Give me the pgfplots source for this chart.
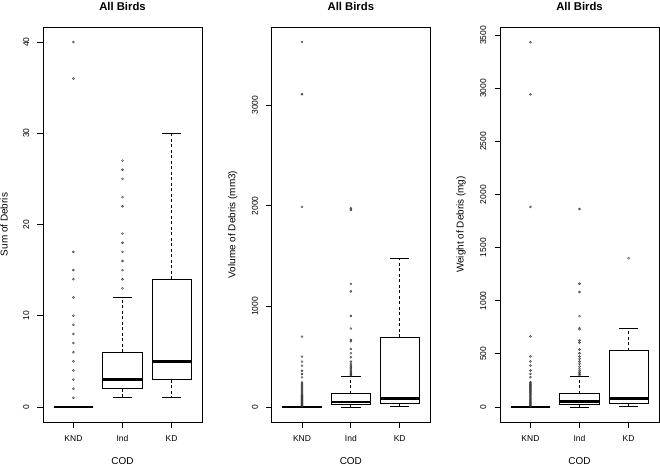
\documentclass[border=0pt]{standalone}
\usepackage{fontspec}
\setmainfont{Liberation Sans}
\usepackage{pgfplots}
\pgfplotsset{compat=1.18}
\pgfplotsset{
  rbox/.style={
    scale only axis, width=159bp, height=395bp, anchor=south west,
    xmin=0.38, xmax=3.62, xtick={1,2,3}, xticklabels={KND,Ind,KD},
    tick pos=left, tick align=outside, major tick length=5.5bp,
    axis line style={line width=0.9bp},
    tick style={black, line width=0.8bp},
    /pgf/number format/assume math mode=true,
    /pgf/number format/1000 sep={},
    label style={font=\fontsize{8.5bp}{10bp}\selectfont},
    every axis x label/.style={at={(axis description cs:0.5,0)}, yshift=-39bp, anchor=center},
    every axis y label/.style={at={(axis description cs:0,0.5)}, xshift=-39bp, rotate=90, anchor=center},
    title={All Birds},
    every axis title/.style={at={(axis description cs:0.5,1)}, yshift=21bp, anchor=center, font=\bfseries\fontsize{11.3bp}{13bp}\selectfont},
    xlabel={COD},
    xticklabel style={font=\fontsize{8.5bp}{10bp}\selectfont, inner sep=0pt, anchor=north, yshift=-8bp},
  },
  ylab/.style={
    yticklabel style={font=\fontsize{8.5bp}{10bp}\selectfont, inner sep=0pt, rotate=90, anchor=south, yshift=8bp},
  },
  wh/.style={black, line width=0.8bp, dash pattern=on 3bp off 2.5bp},
  cap/.style={black, line width=0.8bp},
  bx/.style={black, line width=0.8bp, fill=white},
  med/.style={black, line width=2.6bp},
  rout/.style={only marks, mark=o, mark size=1bp, mark options={draw=black!80, line width=0.45bp, solid}},
}
\begin{document}
\begin{tikzpicture}
\useasboundingbox (0,0) rectangle (660bp,466bp);
% ---------------- Panel 1: Sum of Debris ----------------
\begin{axis}[rbox, at={(43bp,44bp)}, ymin=-1.65, ymax=41.65, ytick={0,10,20,30,40}, ylabel={Sum of Debris}, ylab]
% KND: all quartiles at 0
\addplot[bx] coordinates {(0.6,0) (1.4,0) (1.4,0) (0.6,0)} -- cycle;
\addplot[med] coordinates {(0.6,0) (1.4,0)};
\addplot[rout] coordinates {(1,1) (1,2) (1,3) (1,4) (1,5) (1,6) (1,7) (1,8) (1,9) (1,10) (1,12) (1,14) (1,15) (1,17) (1,36) (1,40)};
% Ind: lw 1, q1 2, med 3, q3 6, uw 12
\addplot[wh] coordinates {(2,2) (2,1)};
\addplot[wh] coordinates {(2,6) (2,12)};
\addplot[cap] coordinates {(1.8,1) (2.2,1)};
\addplot[cap] coordinates {(1.8,12) (2.2,12)};
\addplot[bx] coordinates {(1.6,2) (2.4,2) (2.4,6) (1.6,6)} -- cycle;
\addplot[med] coordinates {(1.6,3) (2.4,3)};
\addplot[rout] coordinates {(2,13) (2,14) (2,15) (2,16) (2,17) (2,18) (2,19) (2,22) (2,23) (2,25) (2,26) (2,27)};
% KD: lw 1, q1 3, med 5, q3 14, uw 30
\addplot[wh] coordinates {(3,3) (3,1)};
\addplot[wh] coordinates {(3,14) (3,30)};
\addplot[cap] coordinates {(2.8,1) (3.2,1)};
\addplot[cap] coordinates {(2.8,30) (3.2,30)};
\addplot[bx] coordinates {(2.6,3) (3.4,3) (3.4,14) (2.6,14)} -- cycle;
\addplot[med] coordinates {(2.6,5) (3.4,5)};
\end{axis}
% ---------------- Panel 2: Volume ----------------
\begin{axis}[rbox, at={(271.7bp,44bp)}, width=158.3bp, ymin=-148, ymax=3778, ytick={0,1000,2000,3000}, ylabel={Volume of Debris (mm3)}, ylab]
\addplot[bx] coordinates {(0.6,0) (1.4,0) (1.4,0) (0.6,0)} -- cycle;
\addplot[med] coordinates {(0.6,0) (1.4,0)};
\addplot[rout] coordinates {(1,3630) (1,3110) (1,1990) (1,701) (1,502) (1,452) (1,412) (1,362) (1,329) (1,296) (1,246) (1,236) (1,226) (1,216) (1,206) (1,196) (1,186) (1,176) (1,166) (1,156) (1,146) (1,136) (1,126) (1,116) (1,106) (1,96) (1,86) (1,76) (1,66) (1,56) (1,46) (1,36) (1,26) (1,16) (1,8)};
% Ind: lw 0, q1 27, med 50, q3 133, uw 306
\addplot[wh] coordinates {(2,27) (2,0)};
\addplot[wh] coordinates {(2,133) (2,306)};
\addplot[cap] coordinates {(1.8,0) (2.2,0)};
\addplot[cap] coordinates {(1.8,306) (2.2,306)};
\addplot[bx] coordinates {(1.6,27) (2.4,27) (2.4,133) (1.6,133)} -- cycle;
\addplot[med] coordinates {(1.6,50) (2.4,50)};
\addplot[rout] coordinates {(2,1975) (2,1960) (2,1226) (2,1150) (2,907) (2,781) (2,668) (2,654) (2,578) (2,535) (2,495) (2,452) (2,429) (2,410) (2,395) (2,380) (2,362) (2,350) (2,336) (2,325) (2,315)};
% KD: lw 10, q1 33, med 83, q3 694, uw 1478
\addplot[wh] coordinates {(3,33) (3,10)};
\addplot[wh] coordinates {(3,694) (3,1478)};
\addplot[cap] coordinates {(2.8,10) (3.2,10)};
\addplot[cap] coordinates {(2.8,1478) (3.2,1478)};
\addplot[bx] coordinates {(2.6,33) (3.4,33) (3.4,694) (2.6,694)} -- cycle;
\addplot[med] coordinates {(2.6,83) (3.4,83)};
\end{axis}
% ---------------- Panel 3: Weight ----------------
\begin{axis}[rbox, at={(500bp,44bp)}, ymin=-142, ymax=3578, ytick={0,500,1000,1500,2000,2500,3000,3500}, ylabel={Weight of Debris (mg)}, ylab]
\addplot[bx] coordinates {(0.6,0) (1.4,0) (1.4,0) (0.6,0)} -- cycle;
\addplot[med] coordinates {(0.6,0) (1.4,0)};
\addplot[rout] coordinates {(1,3434) (1,2943) (1,1883) (1,664) (1,475) (1,428) (1,390) (1,343) (1,311) (1,280) (1,233) (1,223) (1,213) (1,203) (1,193) (1,183) (1,173) (1,163) (1,153) (1,143) (1,133) (1,123) (1,113) (1,103) (1,93) (1,83) (1,73) (1,63) (1,53) (1,43) (1,33) (1,23) (1,13) (1,6)};
% Ind: lw 0, q1 25, med 50, q3 123, uw 292
\addplot[wh] coordinates {(2,25) (2,0)};
\addplot[wh] coordinates {(2,123) (2,292)};
\addplot[cap] coordinates {(1.8,0) (2.2,0)};
\addplot[cap] coordinates {(1.8,292) (2.2,292)};
\addplot[bx] coordinates {(1.6,25) (2.4,25) (2.4,123) (1.6,123)} -- cycle;
\addplot[med] coordinates {(1.6,50) (2.4,50)};
\addplot[rout] coordinates {(2,1864) (2,1160) (2,1082) (2,855) (2,742) (2,730) (2,626) (2,607) (2,541) (2,506) (2,475) (2,453) (2,428) (2,406) (2,380) (2,358) (2,340) (2,327) (2,310) (2,300)};
% KD: lw 6, q1 31, med 78, q3 531, uw 742
\addplot[wh] coordinates {(3,31) (3,6)};
\addplot[wh] coordinates {(3,531) (3,742)};
\addplot[cap] coordinates {(2.8,6) (3.2,6)};
\addplot[cap] coordinates {(2.8,742) (3.2,742)};
\addplot[bx] coordinates {(2.6,31) (3.4,31) (3.4,531) (2.6,531)} -- cycle;
\addplot[med] coordinates {(2.6,78) (3.4,78)};
\addplot[rout] coordinates {(3,1400)};
\end{axis}
\end{tikzpicture}
\end{document}
